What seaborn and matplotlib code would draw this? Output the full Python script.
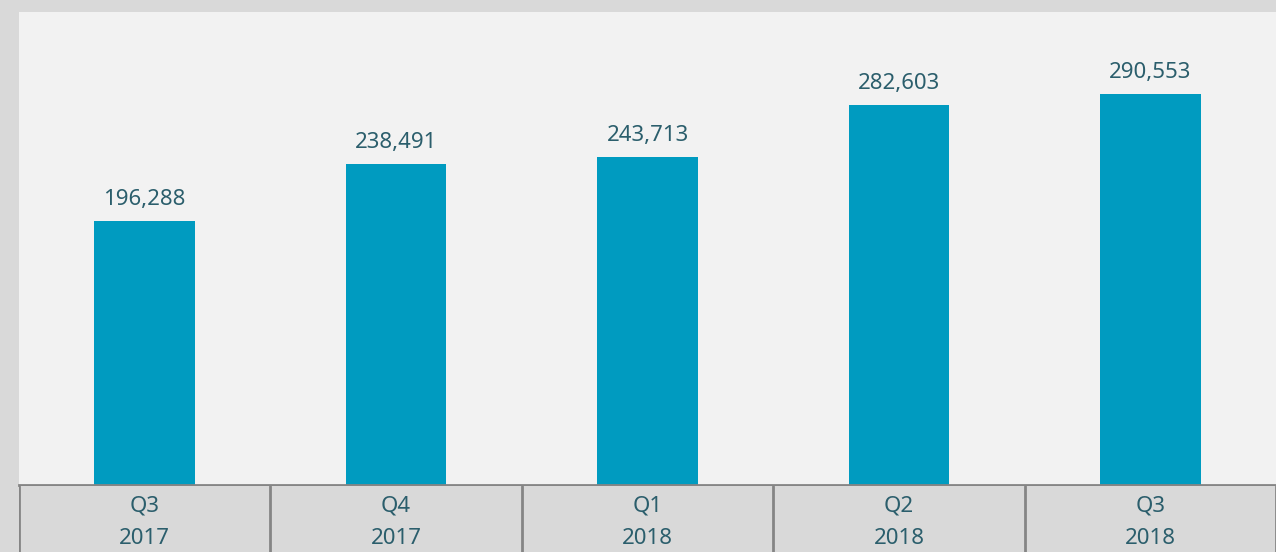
import matplotlib
matplotlib.use("Agg")
import matplotlib.pyplot as plt
import seaborn as sns
import pandas as pd

quarters = ["Q3", "Q4", "Q1", "Q2", "Q3"]
years = ["2017", "2017", "2018", "2018", "2018"]
values = [196288, 238491, 243713, 282603, 290553]

sns.set_theme(style="white")
plt.rcParams["font.family"] = ["Noto Sans", "DejaVu Sans"]

TEXT = "#2b5e6c"
BAR = "#009bc0"
GRID = "#858585"

W, H = 1276, 552
fig = plt.figure(figsize=(W / 100, H / 100), dpi=100, facecolor="#d9d9d9")

left = 19 / W
ax = fig.add_axes([left, 67 / H, 1 - left, (485 - 12) / H])
ax.set_facecolor("#f2f2f2")

df = pd.DataFrame({"cat": [f"{q}\n{y}" + " " * i for i, (q, y) in enumerate(zip(quarters, years))],
                   "value": values})
sns.barplot(data=df, x="cat", y="value", color=BAR, width=0.4, saturation=1,
            linewidth=0, edgecolor=BAR, ax=ax)
ax.set_xlim(-0.5, len(values) - 0.5)
ax.set_ylim(0, 351600)
ax.set_xlabel("")
ax.set_ylabel("")
ax.set_xticks([])
ax.set_yticks([])
for s in ["top", "left", "right"]:
    ax.spines[s].set_visible(False)
ax.spines["bottom"].set_color(GRID)
ax.spines["bottom"].set_linewidth(2)
ax.bar_label(ax.containers[0], labels=[f"{v:,}" for v in values],
             padding=8, color=TEXT, fontsize=16)

# category table below
tax = fig.add_axes([left, 0, 1 - left, 66 / H])
tax.set_facecolor("#d9d9d9")
tax.set_xlim(-0.5, len(values) - 0.5)
tax.set_ylim(0, 1)
tax.set_xticks([])
tax.set_yticks([])
for s in tax.spines.values():
    s.set_visible(False)
for i in range(len(values) + 1):
    tax.axvline(i - 0.5, color=GRID, lw=2)
for i, (q, y) in enumerate(zip(quarters, years)):
    tax.text(i, 0.70, q, ha="center", va="center", color=TEXT, fontsize=16)
    tax.text(i, 0.21, y, ha="center", va="center", color=TEXT, fontsize=16)

fig.savefig("out.png", dpi=100, facecolor=fig.get_facecolor())
